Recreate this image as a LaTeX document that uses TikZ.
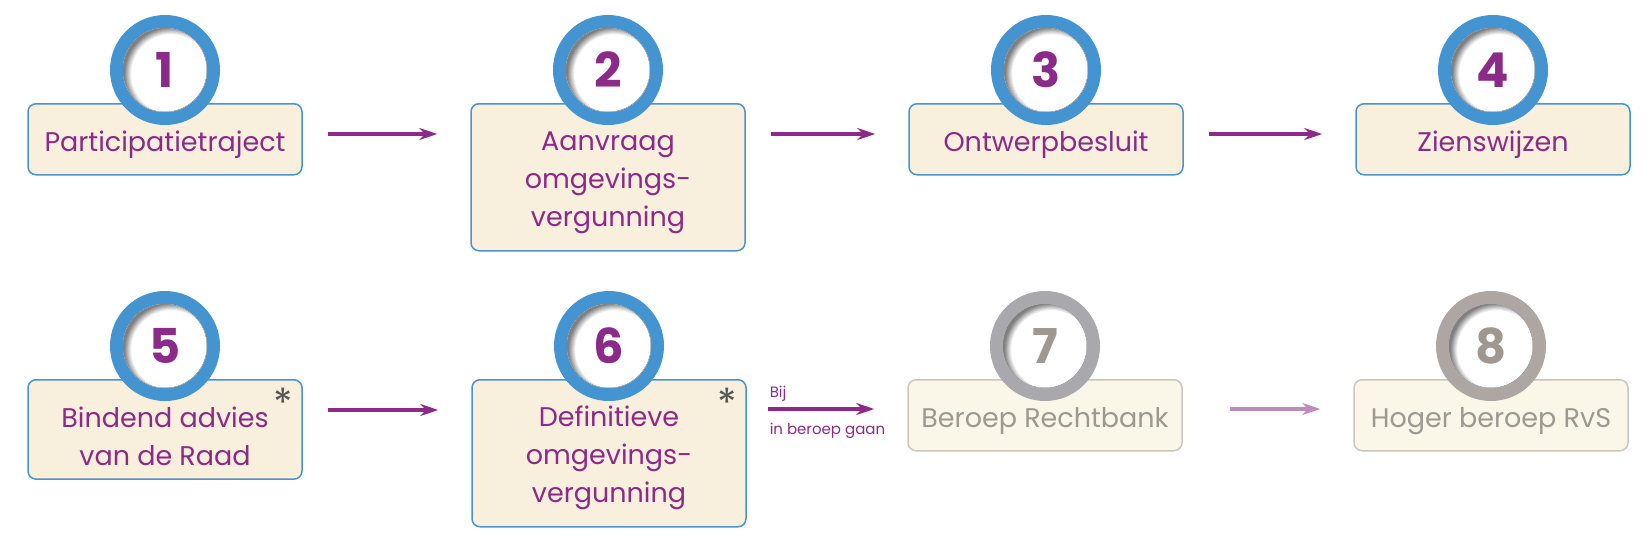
\documentclass[tikz,border=0pt]{standalone}
\usepackage{fontspec}
\setmainfont{Poppins}
\usetikzlibrary{arrows.meta}

\begin{document}
\begin{tikzpicture}[x=0.5pt,y=-0.5pt]
  % Colors
  \definecolor{stepblue}{HTML}{4394D0}
  \definecolor{steptext}{HTML}{8B2A88}
  \definecolor{stepfill}{HTML}{F8EFDC}
  \definecolor{stepborder}{HTML}{4A94CE}
  \definecolor{laterfill}{HTML}{FAF6E8}
  \definecolor{laterborder}{HTML}{CBC6C0}
  \definecolor{latertext}{HTML}{9E9890}
  \definecolor{laterring}{HTML}{A9A8AC}
  \definecolor{lastring}{HTML}{AEA6A3}
  \definecolor{starcolor}{HTML}{555555}
  \colorlet{laterarrow}{steptext!55}

  % Styles
  \tikzstyle{step box}=[draw=stepborder,fill=stepfill,text=steptext,line width=0.75pt,
    rounded corners=4pt,minimum width=137pt,minimum height=35.5pt,align=center,
    anchor=north,text height=15.5pt,text depth=3.5pt,font=\fontsize{13.5}{19}\selectfont]
  \tikzstyle{later box}=[step box,draw=laterborder,fill=laterfill,text=latertext]
  \tikzstyle{two lines}=[minimum height=49pt,text height=39.5pt]
  \tikzstyle{three lines}=[minimum height=73.5pt,text height=52.5pt]
  \tikzstyle{ring}=[circle,draw=stepblue,line width=6.5pt,fill=white,minimum size=48.5pt,
    inner sep=0pt,text=steptext,font=\fontsize{24}{24}\selectfont\bfseries]
  \tikzstyle{flow}=[-{Stealth[length=9pt,width=6pt,inset=3pt]},line width=2pt,
    draw=steptext,shorten <=12.5pt,shorten >=16.5pt]
  \tikzstyle{small text}=[text=steptext,inner sep=0pt,anchor=base west,
    font=\fontsize{7.5}{9}\selectfont]
  \tikzstyle{star}=[text=starcolor,inner sep=0pt,anchor=north,font=\fontsize{20}{20}\selectfont]

  \useasboundingbox (0,0) rectangle (1651,542);

  % The boxes
  \node[step box] (b1) at (165,103) {Participatietraject};
  \node[step box,three lines] (b2) at (608,103) {Aanvraag\\omgevings-\\vergunning};
  \node[step box] (b3) at (1046,103) {Ontwerpbesluit};
  \node[step box] (b4) at (1493,103) {Zienswijzen};
  \node[step box,two lines] (b5) at (165,379) {Bindend advies\\van de Raad};
  \node[step box,three lines] (b6) at (609,379) {Definitieve\\omgevings-\\vergunning};
  \node[later box] (b7) at (1045,379) {Beroep Rechtbank};
  \node[later box] (b8) at (1491,379) {Hoger beroep RvS};

  % The numbers
  \foreach \n in {1,...,6}
    \node[ring] (r\n) at ([yshift=16.5pt]b\n.north) {\n};
  \node[ring,draw=laterring,text=latertext] (r7) at ([yshift=16.5pt]b7.north) {7};
  \node[ring,draw=lastring,text=latertext] (r8) at ([yshift=16.5pt]b8.north) {8};

  % Inner shadow of the rings
  \foreach \n in {1,...,8} {
    \begin{scope}
      \clip (r\n.center) circle (42);
      \foreach \s [evaluate=\s as \p using int(100-\s*100/8)] in {0,...,8}
        \fill[even odd rule,white!\p!black!50] (r\n.center) circle (42)
          ([xshift=3pt,yshift=-2pt]r\n.center) circle (39+\s*0.9);
    \end{scope}}

  % Asterisks
  \node[star] (s5) at ([xshift=-10pt,yshift=-4.5pt]b5.north east) {*};
  \node[star] (s6) at ([xshift=-10pt,yshift=-4.5pt]b6.north east) {*};

  % The arrows
  \foreach \a/\b in {1/2,2/3,3/4,5/6}
    \draw[flow] ([yshift=-15.5pt]b\a.north east) -- ([yshift=-15.5pt]b\b.north west);
  \draw[flow,shorten <=10.5pt] ([yshift=-15pt]b6.north east)
    node[small text,xshift=10.5pt,yshift=6pt] {Bij}
    node[small text,xshift=10.5pt,yshift=-12.5pt] {in beroep gaan}
    -- ([yshift=-15pt]b7.north west);
  \draw[flow,draw=laterarrow,shorten <=23.5pt] ([yshift=-15pt]b7.north east)
    -- ([yshift=-15pt]b8.north west);
\end{tikzpicture}
\end{document}
